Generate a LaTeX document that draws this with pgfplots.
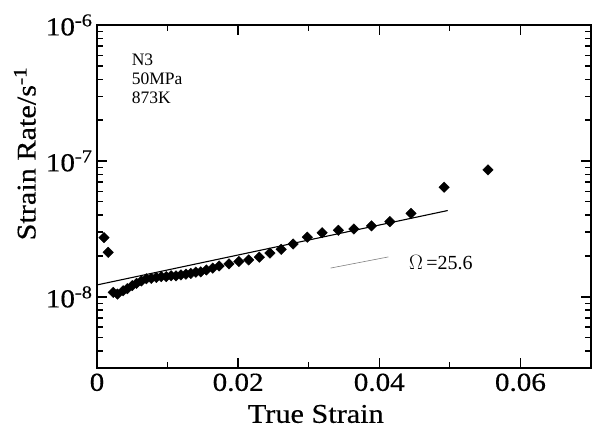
\documentclass[border=0pt]{standalone}
\usepackage{pgfplots}
\pgfplotsset{compat=1.18}
\usepackage{fontspec}
\setmainfont{Liberation Serif}
\newfontfamily\widefont{Liberation Serif}[FakeStretch=1.12,FakeBold=0.4]
\begin{document}
\begin{tikzpicture}
\begin{axis}[
  scale only axis,
  width=494pt, height=343pt,
  xmin=0, xmax=0.07,
  ymode=log, ymin=3e-9, ymax=1e-6,
  axis line style={line width=1.3pt},
  tick align=inside,
  major tick style={draw=black, line width=1.5pt},
  minor tick style={draw=black, line width=1.2pt},
  major tick length=10pt, minor tick length=6pt,
  xtick pos=both, ytick pos=both,
  scaled x ticks=false,
  xtick={0,0.02,0.04,0.06},
  xticklabels={0,0.02,0.04,0.06},
  minor xtick={0.01,0.03,0.05,0.07},
  ytick={1e-8,1e-7,1e-6},
  yticklabels={10\textsuperscript{-8},10\textsuperscript{-7},10\textsuperscript{-6}},
  minor ytick={3e-9,4e-9,5e-9,6e-9,7e-9,8e-9,9e-9,2e-8,3e-8,4e-8,5e-8,6e-8,7e-8,8e-8,9e-8,2e-7,3e-7,4e-7,5e-7,6e-7,7e-7,8e-7,9e-7},
  ticklabel style={font=\widefont\fontsize{26}{28}\selectfont},
  xticklabel style={yshift=-2pt},
  yticklabel style={xshift=-1pt},
  xlabel={True Strain},
  ylabel={Strain Rate/s\textsuperscript{-1}},
  label style={font=\widefont\fontsize{27}{29}\selectfont},
  xlabel style={at={(axis description cs:0.443,-0.134)}, anchor=center},
  ylabel style={at={(axis description cs:-0.146,0.625)}, anchor=center},
  clip=false,
]
\addplot[only marks, mark=square*, mark size=3.7pt, mark options={rotate=45, fill=black}] coordinates {
(0.00099,2.73e-8) (0.00159,2.13e-8)
(0.0023,1.08e-8) (0.0029,1.05e-8) (0.0037,1.11e-8) (0.0043,1.15e-8) (0.0050,1.21e-8)
(0.0056,1.26e-8) (0.0063,1.31e-8) (0.0070,1.36e-8) (0.0077,1.37e-8) (0.0084,1.39e-8)
(0.0091,1.41e-8) (0.0098,1.41e-8) (0.0105,1.43e-8) (0.0112,1.43e-8) (0.0119,1.45e-8)
(0.0126,1.47e-8) (0.0133,1.49e-8) (0.0140,1.52e-8) (0.0147,1.53e-8) (0.0155,1.58e-8)
(0.0164,1.63e-8) (0.0173,1.69e-8) (0.0187,1.75e-8) (0.0201,1.82e-8) (0.0215,1.87e-8)
(0.0230,1.96e-8) (0.0245,2.10e-8) (0.0261,2.24e-8) (0.0278,2.45e-8) (0.0298,2.75e-8)
(0.0319,2.97e-8) (0.0342,3.09e-8) (0.0364,3.16e-8) (0.0389,3.33e-8) (0.0415,3.58e-8)
(0.0445,4.12e-8) (0.0492,6.41e-8) (0.0554,8.59e-8)
};
\addplot[black, line width=1.1pt] coordinates {(0,1.225e-8) (0.0497,4.32e-8)};
\addplot[gray, line width=0.6pt] coordinates {(0.0331,1.63e-8) (0.0413,1.97e-8)};
\node[anchor=west, font=\fontsize{20}{22}\selectfont, inner sep=0pt] at (axis cs:0.0442,1.78e-8) {$\Omega$\,=25.6};
\node[anchor=north west, align=left, font=\fontsize{17.5}{19}\selectfont, inner sep=0pt] at (axis cs:0.0049,6.2e-7) {N3\\50MPa\\873K};
\end{axis}
\path (current axis.south west) ++(-97pt,-62pt) rectangle ++(592pt,430pt);
\end{tikzpicture}
\end{document}
